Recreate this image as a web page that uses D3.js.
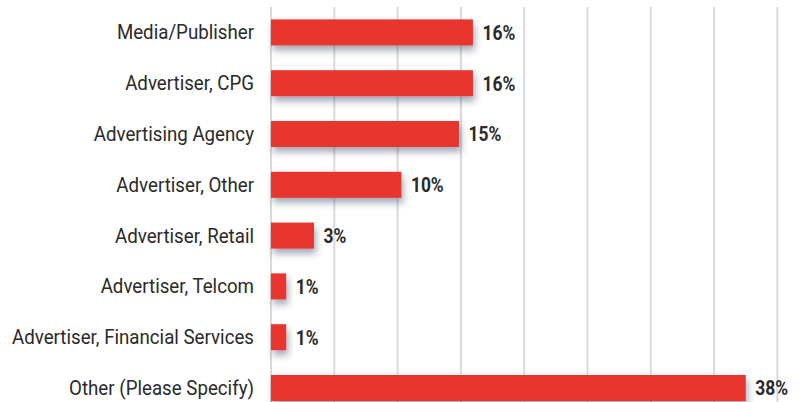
<!DOCTYPE html>
<html>
<head>
<meta charset="utf-8">
<script src="https://cdn.jsdelivr.net/npm/d3@7"></script>
<style>
  html, body { margin: 0; padding: 0; background: #fff; }
  svg { display: block; }
</style>
</head>
<body>
<div id="chart"></div>
<script>
'use strict';

// data
var categories = ['Media/Publisher', 'Advertiser, CPG', 'Advertising Agency', 'Advertiser, Other',
  'Advertiser, Retail', 'Advertiser, Telcom', 'Advertiser, Financial Services', 'Other (Please Specify)'];
var values = [15.95, 15.95, 14.85, 10.3, 3.4, 1.2, 1.2, 37.5];
var valueLabels = ['16%', '16%', '15%', '10%', '3%', '1%', '1%', '38%'];
var gridTicks = [0, 5, 10, 15, 20, 25, 30, 35, 40];

var W = 799, H = 402;
var barColor = '#e8342f', gridColor = '#d6d9df', textColor = '#2a2a2a';

var svg = d3.select('#chart').append('svg')
  .attr('width', W)
  .attr('height', H);

// drop shadow under the bars
var defs = svg.append('defs');
var f = defs.append('filter')
  .attr('id', 'shadow')
  .attr('x', '-20%').attr('y', '-40%')
  .attr('width', '160%').attr('height', '220%');
f.append('feDropShadow')
  .attr('dx', 2).attr('dy', 5)
  .attr('stdDeviation', 3.5)
  .attr('flood-color', '#34405a')
  .attr('flood-opacity', 0.45);

var x = d3.scaleLinear().domain([0, 40]).range([271, 777.4]);
var y = d3.scaleBand().domain(categories).range([7, 413.4]).paddingInner(0.488).paddingOuter(0.244);

// vertical gridlines
svg.append('g').selectAll('line')
  .data(gridTicks)
  .enter().append('line')
  .attr('x1', function(d) { return x(d); })
  .attr('x2', function(d) { return x(d); })
  .attr('y1', 7)
  .attr('y2', H)
  .style('stroke', gridColor)
  .style('stroke-width', 2);

// bars
svg.append('g').selectAll('rect')
  .data(values)
  .enter().append('rect')
  .attr('x', x(0))
  .attr('y', function(d, i) { return y(categories[i]); })
  .attr('width', function(d) { return x(d) - x(0); })
  .attr('height', y.bandwidth())
  .attr('filter', 'url(#shadow)')
  .style('fill', barColor);

// value labels (bold condensed look)
svg.append('g').selectAll('text')
  .data(values)
  .enter().append('text')
  .attr('transform', function(d, i) {
    return 'translate(' + (x(d) + 9.5) + ',' + (y(categories[i]) + y.bandwidth() / 2) + ') scale(0.87,1)';
  })
  .attr('dy', '0.37em')
  .attr('font-family', 'Roboto, sans-serif')
  .attr('font-weight', 'bold')
  .attr('font-size', 20)
  .style('fill', textColor)
  .text(function(d, i) { return valueLabels[i]; });

// category labels (condensed look)
svg.append('g').selectAll('text')
  .data(categories)
  .enter().append('text')
  .attr('transform', function(d) {
    return 'translate(254,' + (y(d) + y.bandwidth() / 2) + ') scale(0.935,1)';
  })
  .attr('dy', '0.35em')
  .attr('text-anchor', 'end')
  .attr('font-family', 'Roboto, sans-serif')
  .attr('font-size', 20)
  .style('fill', textColor)
  .text(function(d) { return d; });
</script>
</body>
</html>
